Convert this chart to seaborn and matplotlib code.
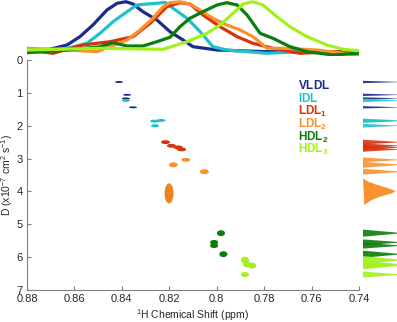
import numpy as np
import pandas as pd
import seaborn as sns
import matplotlib.pyplot as plt
from matplotlib.patches import Ellipse

sns.set_style("ticks")
plt.rcParams["font.family"] = ["Liberation Sans", "DejaVu Sans"]
plt.rcParams["mathtext.fontset"] = "custom"
plt.rcParams["mathtext.rm"] = "Liberation Sans"
plt.rcParams["mathtext.bf"] = "Liberation Sans:bold"
plt.rcParams["mathtext.default"] = "regular"

# classes
classes = ["VLDL", "IDL", "LDL1", "LDL2", "HDL2", "HDL3"]
labels = [r"$\mathbf{VLDL}$", r"$\mathbf{IDL}$", r"$\mathbf{LDL_1}$",
          r"$\mathbf{LDL_2}$", r"$\mathbf{HDL_2}$", r"$\mathbf{HDL_3}$"]
colors = ["#1b2a8c", "#1fc2c8", "#d8330f", "#f8922e", "#0b7d0b", "#a2f01e"]

# 2D spots (chemical shift, diffusion coefficient)
spot_cls = ["VLDL"] * 4 + ["IDL"] * 4 + ["LDL1"] * 4 + ["LDL2"] * 3 + ["HDL2"] * 4 + ["HDL3"] * 4
spot_ppm = [0.8412, 0.8378, 0.8383, 0.8353,
            0.8383, 0.8260, 0.8235, 0.8260,
            0.8216, 0.8191, 0.8163, 0.8148,
            0.8130, 0.8183, 0.8052,
            0.7982, 0.8011, 0.8011, 0.7972,
            0.7881, 0.7872, 0.7850, 0.7881]
spot_D = [0.67, 1.06, 1.17, 1.44,
          1.23, 1.86, 1.84, 2.00,
          2.50, 2.61, 2.66, 2.72,
          3.04, 3.19, 3.40,
          5.27, 5.55, 5.65, 5.91,
          6.09, 6.22, 6.26, 6.53]
# broad LDL2 spot
big_ppm = 0.8201
big_D = 4.06

# 1D projection curves (top)
ppm_vldl = [0.880, 0.8703, 0.8631, 0.8577, 0.8522, 0.8463, 0.8420, 0.8383, 0.8353,
            0.8311, 0.8252, 0.8197, 0.8142, 0.8100, 0.7999, 0.7788, 0.7404]
int_vldl = [0, 0.7, 5, 13.3, 25, 40, 46.7, 48.3, 46, 38.3, 30, 18.3, 10, 3.3, 0, -1.7, -1.7]

ppm_idl = [0.880, 0.8631, 0.8547, 0.8492, 0.8437, 0.8378, 0.8336, 0.8294, 0.8252,
           0.8218, 0.8184, 0.8125, 0.8070, 0.8016, 0.7957, 0.7788, 0.7649, 0.7404]
int_idl = [-1.7, 1.7, 6.7, 16.7, 28.3, 38.3, 45, 46, 46.7, 47.7, 41.7, 31.7, 18.3,
           3.3, 0, -3.3, -1.7, -2.7]

ppm_ldl1 = [0.880, 0.8690, 0.8564, 0.8450, 0.8353, 0.8281, 0.8210, 0.8155, 0.8113,
            0.8058, 0.7986, 0.7914, 0.7847, 0.7763, 0.7649, 0.7510, 0.7404]
int_ldl1 = [0, -3.3, 5, 8.3, 13.3, 26.7, 43.3, 47.3, 46, 35, 23.3, 13.3, 6.7, 1.7,
            -3.3, -1.7, -3.3]

ppm_ldl2 = [0.880, 0.8631, 0.8505, 0.8450, 0.8378, 0.8323, 0.8269, 0.8226, 0.8197,
            0.8155, 0.8113, 0.8070, 0.8016, 0.7957, 0.7902, 0.7847, 0.7788, 0.7720,
            0.7577, 0.7404]
int_ldl2 = [1.7, 0, -1.7, 3.3, 10, 20, 31.7, 43.3, 47.3, 48.3, 46, 40, 31.7, 25, 20,
            13.3, 1.7, 1.7, 0, -5]

ppm_hdl2 = [0.880, 0.8631, 0.8492, 0.8437, 0.8378, 0.8311, 0.8252, 0.8197, 0.8155,
            0.8113, 0.8058, 0.7999, 0.7957, 0.7914, 0.7872, 0.7817, 0.7763, 0.7691,
            0.7619, 0.7510, 0.7404]
int_hdl2 = [-2.7, 0, 3.3, 7.3, 4, 4, 8.3, 12.7, 23.3, 31.7, 38.3, 45, 47.3, 45, 35,
            16.7, 11.7, 3.3, -1.7, -5, -3.3]

ppm_hdl3 = [0.880, 0.8492, 0.8226, 0.8125, 0.8041, 0.7986, 0.7931, 0.7889, 0.7847,
            0.7805, 0.7746, 0.7691, 0.7619, 0.7535, 0.7467, 0.7404]
int_hdl3 = [0, 1.7, 0.7, 8.3, 16.7, 25, 36.7, 46, 48.3, 45, 33.3, 23.3, 13.3, 5, 0.7, -0.7]

# broad LDL2 projection outline (right panel)
big_proj_D = [3.60, 3.70, 3.80, 3.90, 3.99, 4.06, 4.16, 4.26, 4.41]
big_proj_I = [0, 5, 13.7, 25, 32.7, 28.7, 17, 8.7, 1.3]

x_ticks = [0.88, 0.86, 0.84, 0.82, 0.80, 0.78, 0.76, 0.74]
x_labels = ["0.88", "0.86", "0.84", "0.82", "0.8", "0.78", "0.76", "0.74"]
y_ticks = [0, 1, 2, 3, 4, 5, 6, 7]

# spot sizes (ppm, D)
spot_w = [0.0034] * 4 + [0.0034, 0.0042, 0.0038, 0.0034] + [0.0038] * 4 + [0.0038] * 3 + [0.0034] * 4 + [0.0034] * 4
spot_h = [0.06] * 4 + [0.09] * 4 + [0.12] * 4 + [0.12, 0.15, 0.15] + [0.18, 0.15, 0.15, 0.18] + [0.21, 0.18, 0.18, 0.15]

cmap = dict(zip(classes, colors))
spots = pd.DataFrame({"cls": spot_cls, "ppm": spot_ppm, "D": spot_D, "w": spot_w, "h": spot_h})

curves = pd.concat([
    pd.DataFrame({"cls": c, "ppm": p, "I": i}) for c, p, i in [
        ("VLDL", ppm_vldl, int_vldl), ("IDL", ppm_idl, int_idl),
        ("LDL1", ppm_ldl1, int_ldl1), ("LDL2", ppm_ldl2, int_ldl2),
        ("HDL2", ppm_hdl2, int_hdl2), ("HDL3", ppm_hdl3, int_hdl3)]
], ignore_index=True)

W, H = 397, 322
fig = plt.figure(figsize=(W / 100, H / 100), dpi=100)
ax = fig.add_axes([27 / W, 32 / H, 332 / W, 230 / H])
ax_top = fig.add_axes([27 / W, (H - 56) / H, 332 / W, 56 / H])
ax_r = fig.add_axes([363 / W, 32 / H, 34 / W, 230 / H])

# top projection
sns.lineplot(data=curves, x="ppm", y="I", hue="cls", hue_order=classes,
             palette=cmap, estimator=None, sort=False, lw=2.3, legend=False, ax=ax_top)
ax_top.set_xlim(0.88, 0.74)
ax_top.set_ylim(-6, 50)
ax_top.axis("off")

# 2D spots
for _, r in spots.iterrows():
    ax.add_patch(Ellipse((r.ppm, r.D), r.w, r.h, color=cmap[r.cls], lw=0))
ax.add_patch(Ellipse((big_ppm, big_D), 0.0038, 0.62, color=cmap["LDL2"], lw=0))
for k in [0.8, 0.6, 0.4, 0.2]:
    ax.add_patch(Ellipse((big_ppm, big_D), 0.0038 * k, 0.62 * (0.3 + 0.7 * k),
                         fill=False, ec="#e8801c", lw=0.6))

ax.set_xlim(0.88, 0.74)
ax.set_ylim(7, 0)
ax.set_xticks(x_ticks, x_labels)
ax.set_yticks(y_ticks)
ax.tick_params(direction="in", length=3, width=0.8, color="#808080", labelsize=8, pad=3)
sns.despine(ax=ax)
for s in ["left", "bottom"]:
    ax.spines[s].set_color("#808080")
    ax.spines[s].set_linewidth(0.8)
ax.set_xlabel(r"$^{1}$H Chemical Shift (ppm)", fontsize=7.5, labelpad=2)
ax.set_ylabel(r"D (x10$^{-7}$ cm$^{2}$ s$^{-1}$)", fontsize=7.5, labelpad=1)

# legend as coloured text
for j, (lab, col) in enumerate(zip(labels, colors)):
    ax.text(0.7657, 0.89 + j * 0.39, lab, color=col, fontsize=8.5, va="baseline", ha="left")

# right projection
for _, r in spots.iterrows():
    hw = max(r.h * 0.6, 0.035)
    ax_r.fill([0, 40, 0], [r.D - hw, r.D, r.D + hw], color=cmap[r.cls], lw=0, alpha=0.9)
ax_r.fill(big_proj_I, big_proj_D, color=cmap["LDL2"], lw=0)
ax_r.set_xlim(0, 34)
ax_r.set_ylim(7, 0)
ax_r.axis("off")

fig.savefig("out.png", dpi=100)
